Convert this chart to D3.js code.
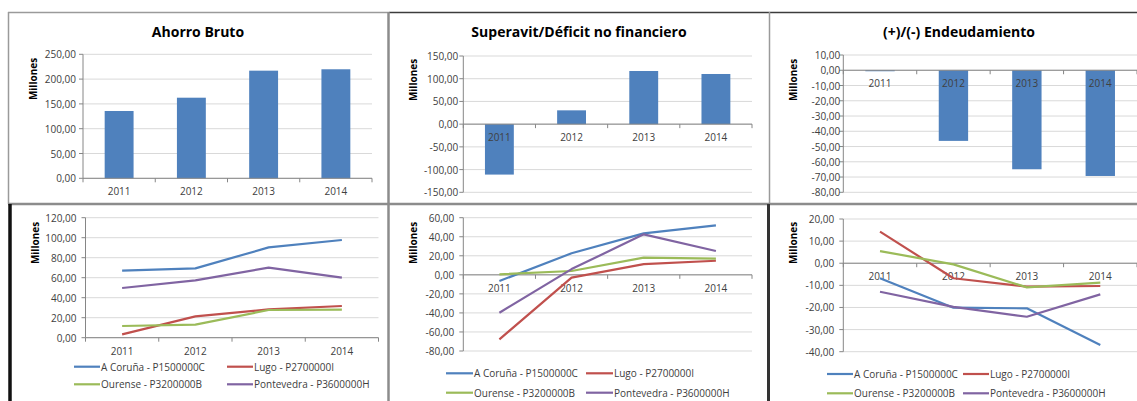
<!DOCTYPE html>
<html>
<head>
<meta charset="utf-8">
<script src="https://cdn.jsdelivr.net/npm/d3@7"></script>
<style>
  body { margin: 0; background: #fff; }
  svg { display: block; font-family: "Open Sans", sans-serif; }
  .tick-label { font-size: 10px; fill: #404040; }
  .title { font-size: 14px; font-weight: bold; fill: #000; }
  .ylab { font-size: 10px; font-weight: bold; fill: #000; }
  .legend { font-size: 10px; fill: #404040; }
</style>
</head>
<body>
<svg id="chart" width="1137" height="401"></svg>
<script>
// categories
const years = ["2011", "2012", "2013", "2014"];

// top row: totals (millones)
const ahorroBruto = [135.7, 162.5, 217.0, 219.8];
const superavit = [-111.0, 30.4, 117.0, 110.4];
const endeudamiento = [-0.3, -46.3, -64.9, -69.3];

// bottom row: per provincia
const seriesNames = ["A Coruña - P1500000C", "Lugo - P2700000I", "Ourense - P3200000B", "Pontevedra - P3600000H"];
const ahorroCoruna = [67.0, 69.3, 90.3, 97.7];
const ahorroLugo = [3.3, 21.3, 28.3, 31.7];
const ahorroOurense = [11.7, 13.0, 27.7, 28.0];
const ahorroPontevedra = [49.7, 57.3, 70.0, 60.0];

const superCoruna = [-6.5, 22.6, 43.6, 52.0];
const superLugo = [-67.7, -3.0, 11.3, 14.8];
const superOurense = [0.5, 4.0, 18.0, 17.0];
const superPontevedra = [-39.8, 6.0, 42.5, 25.0];

const endeuCoruna = [-6.8, -20.1, -20.4, -37.0];
const endeuLugo = [14.3, -6.8, -10.6, -10.3];
const endeuOurense = [5.5, -0.5, -10.9, -8.8];
const endeuPontevedra = [-12.9, -19.7, -24.2, -14.1];

// tick values
const ticksAhorro = [0, 50, 100, 150, 200, 250];
const ticksSuper = [-150, -100, -50, 0, 50, 100, 150];
const ticksEndeu = [-80, -70, -60, -50, -40, -30, -20, -10, 0, 10];
const ticksAhorroProv = [0, 20, 40, 60, 80, 100, 120];
const ticksSuperProv = [-80, -60, -40, -20, 0, 20, 40, 60];
const ticksEndeuProv = [-40, -30, -20, -10, 0, 10, 20];

const seriesColors = ["#4f81bd", "#c0504d", "#9bbb59", "#8064a2"];
const barColor = "#4f81bd";

const es = d3.formatLocale({decimal: ",", thousands: ".", grouping: [3], currency: ["", "€"], minus: "-"});
const fmt = es.format(".2f");

const svg = d3.select("#chart");

function drawAxes(g, p, x, y, ticks) {
  // gridlines
  g.selectAll(null).data(ticks).enter().append("line")
      .attr("x1", p.left).attr("x2", p.right)
      .attr("y1", d => y(d)).attr("y2", d => y(d))
      .attr("stroke", "#d9d9d9").attr("stroke-width", 1);
  // y axis line + ticks
  g.append("line")
      .attr("x1", p.left).attr("x2", p.left)
      .attr("y1", y(ticks[0])).attr("y2", y(ticks[ticks.length - 1]))
      .attr("stroke", "#868686");
  g.selectAll(null).data(ticks).enter().append("line")
      .attr("x1", p.left - 4).attr("x2", p.left)
      .attr("y1", d => y(d)).attr("y2", d => y(d))
      .attr("stroke", "#868686");
  g.selectAll(null).data(ticks).enter().append("text")
      .attr("class", "tick-label")
      .attr("x", p.left - p.gap).attr("y", d => y(d))
      .attr("text-anchor", "end").attr("dominant-baseline", "central")
      .text(d => fmt(d));
}

function drawXAxis(g, p, x, y) {
  const y0 = y(0);
  g.append("line")
      .attr("x1", p.left).attr("x2", p.right)
      .attr("y1", y0).attr("y2", y0)
      .attr("stroke", "#868686");
  const bounds = d3.range(years.length + 1).map(i => x.range()[0] + i * x.step());
  g.selectAll(null).data(bounds).enter().append("line")
      .attr("x1", d => d).attr("x2", d => d)
      .attr("y1", y0).attr("y2", y0 + 4)
      .attr("stroke", "#868686");
}

function drawXLabels(g, x, y) {
  g.selectAll(null).data(years).enter().append("text")
      .attr("class", "tick-label")
      .attr("x", d => x(d) + x.bandwidth() / 2)
      .attr("y", y(0) + 13)
      .attr("text-anchor", "middle").attr("dominant-baseline", "central")
      .text(d => d);
}

function drawFrameTexts(g, p) {
  if (p.title) {
    g.append("text").attr("class", "title")
        .attr("x", p.titleX).attr("y", 37)
        .attr("text-anchor", "middle").text(p.title);
  }
  g.append("text").attr("class", "ylab")
      .attr("transform", "translate(" + p.ylabX + "," + p.ylabY + ") rotate(-90)")
      .attr("text-anchor", "middle").attr("dominant-baseline", "central")
      .text("Millones");
}

function barPanel(p, values, ticks) {
  const g = svg.append("g");
  const x = d3.scaleBand().domain(years).range([p.left, p.right])
      .paddingInner(0.6).paddingOuter(0.3);
  const y = d3.scaleLinear().domain([ticks[0], ticks[ticks.length - 1]]).range([p.bottom, p.top]);
  drawAxes(g, p, x, y, ticks);
  g.selectAll(null).data(values).enter().append("rect")
      .attr("x", (d, i) => x(years[i]))
      .attr("width", x.bandwidth())
      .attr("y", d => Math.min(y(d), y(0)))
      .attr("height", d => Math.max(1, Math.abs(y(d) - y(0))))
      .attr("fill", barColor);
  drawXAxis(g, p, x, y);
  drawXLabels(g, x, y);
  drawFrameTexts(g, p);
}

function linePanel(p, series, ticks) {
  const g = svg.append("g");
  const x = d3.scaleBand().domain(years).range([p.left, p.right]).padding(0);
  const y = d3.scaleLinear().domain([ticks[0], ticks[ticks.length - 1]]).range([p.bottom, p.top]);
  drawAxes(g, p, x, y, ticks);
  drawXAxis(g, p, x, y);
  drawXLabels(g, x, y);
  const line = d3.line()
      .x((d, i) => x(years[i]) + x.bandwidth() / 2)
      .y(d => y(d));
  series.forEach((s, k) => {
    g.append("path").datum(s)
        .attr("d", line)
        .attr("fill", "none")
        .attr("stroke", seriesColors[k])
        .attr("stroke-width", 2.2)
        .attr("stroke-linejoin", "round");
  });
  // legend 2x2
  seriesNames.forEach((name, k) => {
    const col = k % 2, row = Math.floor(k / 2);
    const lx = p.legCols[col], ly = p.legRows[row];
    g.append("line")
        .attr("x1", lx).attr("x2", lx + p.legLen)
        .attr("y1", ly).attr("y2", ly)
        .attr("stroke", seriesColors[k]).attr("stroke-width", 2.2);
    g.append("text").attr("class", "legend")
        .attr("x", lx + p.legLen + 1).attr("y", ly)
        .attr("dominant-baseline", "central")
        .text(name);
  });
  drawFrameTexts(g, p);
}

barPanel({left: 83, right: 372, top: 54.3, bottom: 178.3, gap: 7,
  title: "Ahorro Bruto", titleX: 198, ylabX: 33, ylabY: 79}, ahorroBruto, ticksAhorro);
barPanel({left: 463.3, right: 752, top: 56, bottom: 192.3, gap: 5,
  title: "Superavit/Déficit no financiero", titleX: 579, ylabX: 413, ylabY: 80}, superavit, ticksSuper);
barPanel({left: 843.3, right: 1137, top: 55, bottom: 192.3, gap: 3,
  title: "(+)/(-) Endeudamiento", titleX: 959, ylabX: 793, ylabY: 80}, endeudamiento, ticksEndeu);

linePanel({left: 85.5, right: 378.5, top: 217.7, bottom: 337.7, gap: 9,
  ylabX: 35, ylabY: 243, legCols: [74, 227], legRows: [366.7, 384.3], legLen: 26},
  [ahorroCoruna, ahorroLugo, ahorroOurense, ahorroPontevedra], ticksAhorroProv);
linePanel({left: 463.3, right: 752, top: 217.7, bottom: 351, gap: 9,
  ylabX: 413, ylabY: 243, legCols: [446, 586], legRows: [373.3, 392.7], legLen: 27},
  [superCoruna, superLugo, superOurense, superPontevedra], ticksSuperProv);
linePanel({left: 843.3, right: 1137, top: 219, bottom: 351.7, gap: 9,
  ylabX: 793, ylabY: 243, legCols: [827, 963], legRows: [374, 393.3], legLen: 26},
  [endeuCoruna, endeuLugo, endeuOurense, endeuPontevedra], ticksEndeuProv);

// panel frames
const frames = svg.append("g").attr("fill", "none");
frames.append("line").attr("x1", 8).attr("x2", 389).attr("y1", 12.5).attr("y2", 12.5)
    .attr("stroke", "#9a9a9a").attr("stroke-width", 1.5);
frames.append("line").attr("x1", 389).attr("x2", 1137).attr("y1", 12.5).attr("y2", 12.5)
    .attr("stroke", "#3c3c3c").attr("stroke-width", 1.5);
frames.append("line").attr("x1", 8.5).attr("x2", 8.5).attr("y1", 12).attr("y2", 204)
    .attr("stroke", "#9a9a9a").attr("stroke-width", 1.5);
frames.append("line").attr("x1", 388.5).attr("x2", 388.5).attr("y1", 12).attr("y2", 401)
    .attr("stroke", "#8c8c8c").attr("stroke-width", 2.5);
frames.append("line").attr("x1", 769.5).attr("x2", 769.5).attr("y1", 12).attr("y2", 204)
    .attr("stroke", "#9a9a9a").attr("stroke-width", 1.5);
frames.append("line").attr("x1", 8).attr("x2", 1137).attr("y1", 204).attr("y2", 204)
    .attr("stroke", "#8c8c8c").attr("stroke-width", 2.5);
frames.append("line").attr("x1", 10).attr("x2", 10).attr("y1", 204).attr("y2", 401)
    .attr("stroke", "#111").attr("stroke-width", 3.5);
frames.append("line").attr("x1", 768.5).attr("x2", 768.5).attr("y1", 204).attr("y2", 401)
    .attr("stroke", "#333").attr("stroke-width", 3);
</script>
</body>
</html>
